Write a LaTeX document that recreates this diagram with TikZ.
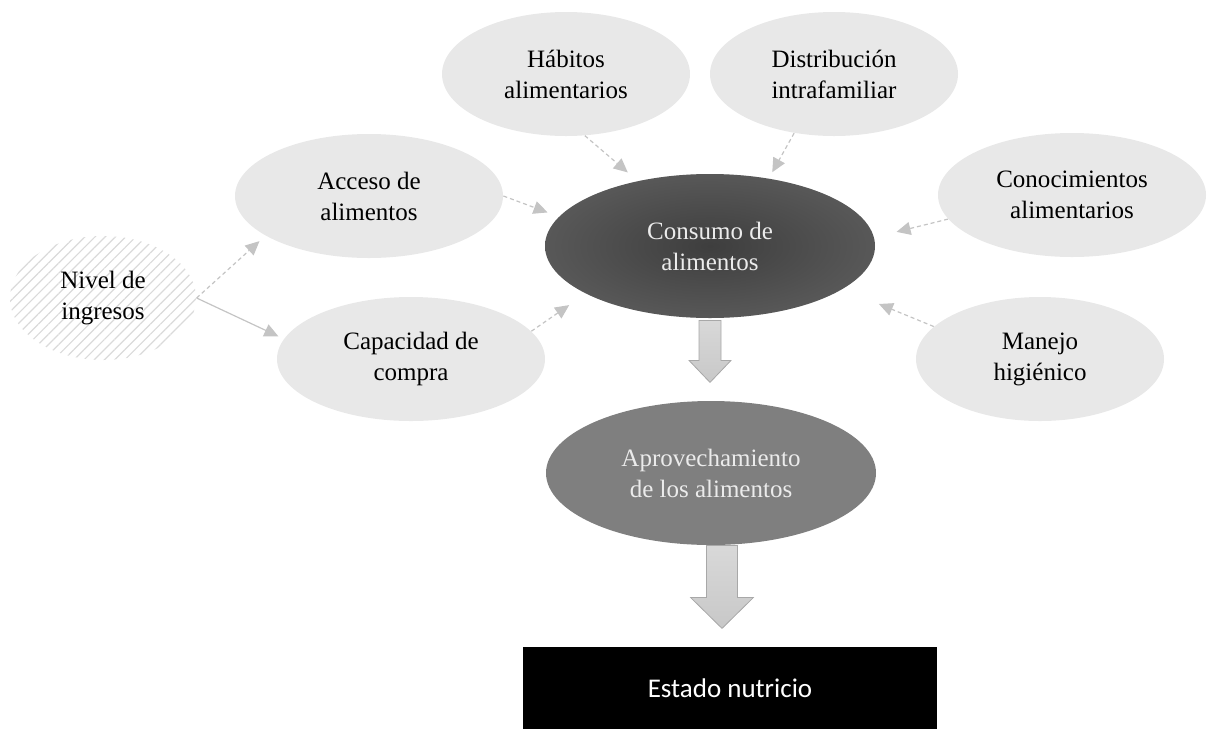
\documentclass[tikz,border=0pt]{standalone}
\usepackage{fontspec}
\setmainfont{Liberation Serif}
\newfontfamily\boxfont{Carlito}
\usetikzlibrary{shapes.geometric}
\usetikzlibrary{arrows.meta}
\usetikzlibrary{patterns.meta}
\definecolor{softgray}{HTML}{E8E8E8}
\definecolor{midgray}{HTML}{7F7F7F}
\definecolor{coregray}{HTML}{3E3E3E}
\definecolor{rimgray}{HTML}{727272}
\definecolor{linkgray}{HTML}{C4C4C4}
\definecolor{hatchgray}{HTML}{DADADA}
\definecolor{arrowfill}{HTML}{C8C8C8}
\definecolor{arrowrim}{HTML}{A8A8A8}
\pgfdeclareradialshading{coreshade}{\pgfpoint{0bp}{0bp}}{color(0bp)=(coregray); color(50bp)=(rimgray)}
\tikzset{factor/.style={ellipse, fill=softgray, inner sep=0pt, align=center, minimum height=62pt, font=\fontsize{12.5}{15.5}\selectfont},
	link/.style={draw=linkgray, line width=0.6pt, dash pattern=on 2pt off 1.5pt, -{Triangle[length=7pt,width=6.5pt]}},
	bigarrow/.style={draw=arrowrim, line width=0.4pt, top color=arrowfill!70!white, bottom color=arrowfill}}

\begin{document}
\begin{tikzpicture}[x=0.5pt,y=-0.5pt]
	\useasboundingbox (0,0) rectangle (1209,729);
	\node[factor, minimum width=124pt] (habitos) at (566,74) {Hábitos\\alimentarios};
	\node[factor, minimum width=124pt] (distrib) at (834,74) {Distribución\\intrafamiliar};
	\node[factor, minimum width=134pt] (acceso) at (369,196) {Acceso de\\alimentos};
	\node[factor, minimum width=134pt] (conoc) at (1072,195) {Conocimientos\\alimentarios};
	\node[factor, minimum width=93pt, fill=none, pattern={Lines[angle=45,distance=3.6pt,line width=0.6pt]}, pattern color=hatchgray] (nivel) at (103,298) {Nivel de\\ingresos};
	\node[factor, minimum width=134pt] (capac) at (411,359) {Capacidad de\\compra};
	\node[factor, minimum width=124pt] (manejo) at (1040,359) {Manejo\\higiénico};
	\node[factor, minimum width=165pt, minimum height=72pt, shading=coreshade, text=white!92!black] (consumo) at (710,246) {Consumo de\\alimentos};
	\node[factor, minimum width=165pt, minimum height=72pt, fill=midgray, text=white!92!black] (aprov) at (711,473) {Aprovechamiento\\de los alimentos};
	\node[fill=black, text=white, minimum width=207pt, minimum height=41pt, inner sep=0pt, font=\boxfont\fontsize{13.5}{16}\selectfont] (estado) at (730,688) {Estado nutricio};
	\draw[link, shorten >=4pt] (nivel.east) -- (acceso.201);
	\draw[link, solid, shorten >=3pt] (nivel.east) -- (capac.171);
	\draw[link, shorten >=6pt] (acceso.east) -- (consumo.169);
	\draw[link, shorten >=10pt] (capac.13) -- (consumo.201);
	\draw[link, shorten >=6.5pt] (habitos.287) -- (consumo.138);
	\draw[link, shorten >=3.5pt] (distrib.236) -- (consumo.49);
	\draw[link, shorten >=11.5pt] (conoc.191) -- (consumo.3);
	\draw[link, shorten >=19.5pt] (manejo.163) -- (consumo.342);
	\draw[bigarrow] (consumo.south) ++(-11,2) -- ++(0,40) -- ++(-10,0) -- ++(21,22) -- ++(21,-22) -- ++(-10,0) -- ++(0,-40) -- cycle;
	\draw[bigarrow] (aprov.south) ++(-4.5,0) -- ++(0,52) -- ++(-16,0) -- ++(31.5,31) -- ++(31.5,-31) -- ++(-16,0) -- ++(0,-52) -- cycle;
\end{tikzpicture}
\end{document}
